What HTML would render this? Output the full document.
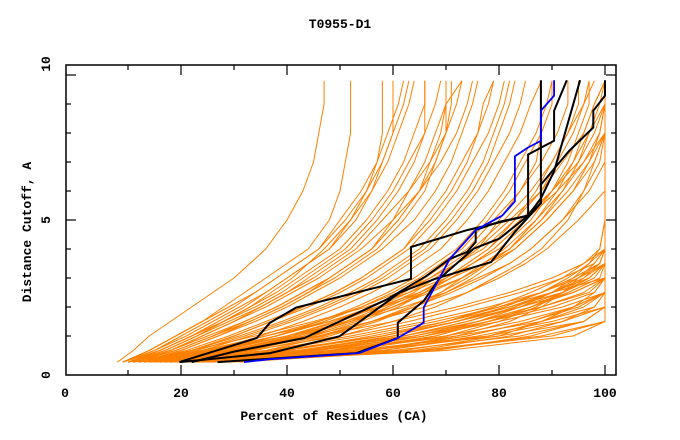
<!DOCTYPE html>
<html><head><meta charset="utf-8"><style>
html,body{margin:0;padding:0;background:#fff;}
svg{display:block;font-family:"Liberation Mono",monospace;font-weight:bold;}
</style></head><body>
<svg id="chart" width="680" height="440" viewBox="0 0 680 440" xmlns="http://www.w3.org/2000/svg">
<text x="340" y="28" text-anchor="middle" font-size="13">T0955-D1</text>
<g id="plot"></g>
<rect x="66" y="65" width="550" height="310" fill="none" stroke="#000" stroke-width="1.5"/>
<g id="axes"></g>
<text x="334" y="420" text-anchor="middle" font-size="13">Percent of Residues (CA)</text>
<text transform="translate(31,232) rotate(-90)" text-anchor="middle" font-size="13">Distance Cutoff, A</text>
</svg>
<script>
const cutoffs = [0.1,0.5,1,1.5,2,2.5,3,3.5,4,5,6,7,8,9,9.8];
const orangeSeries = [
[25,55,80,96,100,100,100,100,100,100,100,100,100,100,100],
[22,50,72,88,98,100,100,100,100,100,100,100,100,100,100],
[20,45,66,80,92,100,100,100,100,100,100,100,100,100,100],
[18,42,62,76,88,97,100,100,100,100,100,100,100,100,100],
[28,58,76,90,100,100,100,100,100,100,100,100,100,100,100],
[15,38,58,72,84,94,100,100,100,100,100,100,100,100,100],
[24,48,64,78,90,98,100,100,100,100,100,100,100,100,100],
[19,40,56,70,82,92,98,100,100,100,100,100,100,100,100],
[16,36,52,66,78,88,95,100,100,100,100,100,100,100,100],
[21,44,60,72,82,90,97,100,100,100,100,100,100,100,100],
[14,33,50,63,74,84,92,98,100,100,100,100,100,100,100],
[26,52,68,78,86,93,99,100,100,100,100,100,100,100,100],
[17,37,54,68,80,90,100,100,100,100,100,100,100,100,100],
[23,46,62,74,84,92,97,100,100,100,100,100,100,100,100],
[13,30,46,60,72,82,90,96,100,100,100,100,100,100,100],
[27,56,74,86,94,100,100,100,100,100,100,100,100,100,100],
[18,40,58,70,80,88,94,99,100,100,100,100,100,100,100],
[31,65,88,100,100,100,100,100,100,100,100,100,100,100,100],
[20,52,78,92,100,100,100,100,100,100,100,100,100,100,100],
[22,60,84,96,100,100,100,100,100,100,100,100,100,100,100],
[24,66,90,100,100,100,100,100,100,100,100,100,100,100,100],
[26,70,94,100,100,100,100,100,100,100,100,100,100,100,100],
[18,48,70,84,94,100,100,100,100,100,100,100,100,100,100],
[21,54,74,86,95,100,100,100,100,100,100,100,100,100,100],
[23,58,78,88,96,100,100,100,100,100,100,100,100,100,100],
[19,46,66,78,88,96,100,100,100,100,100,100,100,100,100],
[17,44,64,76,86,94,100,100,100,100,100,100,100,100,100],
[25,62,80,88,94,98,100,100,100,100,100,100,100,100,100],
[16,42,60,72,82,90,96,100,100,100,100,100,100,100,100],
[20,50,68,78,86,92,97,100,100,100,100,100,100,100,100],
[18,45,62,74,83,90,95,99,100,100,100,100,100,100,100],
[22,52,70,80,87,92,96,99,100,100,100,100,100,100,100],
[15,40,58,70,79,86,92,96,99,100,100,100,100,100,100],
[24,56,72,82,88,92,95,98,100,100,100,100,100,100,100],
[27,64,82,92,98,100,100,100,100,100,100,100,100,100,100],
[29,68,86,96,100,100,100,100,100,100,100,100,100,100,100],
[17,43,60,72,81,88,93,97,100,100,100,100,100,100,100],
[21,49,66,76,84,90,94,97,99,100,100,100,100,100,100],
[14,30,44,56,66,74,80,85,89,95,100,100,100,100,100],
[12,26,40,52,62,70,76,82,86,92,97,100,100,100,100],
[16,32,46,56,64,71,77,82,86,92,96,99,100,100,100],
[11,24,36,48,58,66,73,78,83,89,94,97,99,100,100],
[20,38,50,60,68,74,79,84,88,93,96,98,100,100,100],
[13,27,38,48,57,65,71,77,82,88,92,95,97,99,100],
[10,22,34,45,55,63,70,75,80,86,90,93,95,97,97],
[15,29,41,51,60,67,73,78,82,87,91,94,96,98,100],
[12,25,36,46,54,61,67,72,77,83,88,91,94,96,97],
[14,32,46,56,64,70,75,79,83,89,94,98,100,100,100],
[13,29,42,52,60,66,71,75,79,85,90,94,97,100,100],
[16,34,47,56,63,69,73,77,81,87,92,96,99,100,100],
[12,27,40,50,57,63,68,72,76,82,88,92,96,98,100],
[15,31,44,53,60,66,70,74,78,84,90,95,98,100,100],
[18,36,48,57,64,69,74,78,82,88,93,97,100,100,100],
[11,25,38,48,56,62,67,71,75,81,86,90,93,96,98],
[14,30,43,52,59,65,70,74,78,83,87,90,93,95,95],
[13,28,40,49,56,62,66,70,74,79,84,88,91,93,93],
[12,26,38,47,54,60,65,69,73,78,82,85,88,90,90],
[17,33,45,54,61,66,71,75,79,85,91,96,100,100,100],
[15,30,42,51,58,64,68,72,76,80,84,87,88,88,88],
[8,11,14,18,22,26,30,33,36,40,43,45,46,47,47],
[10,16,22,28,33,37,41,44,47,52,56,59,61,63,64],
[9,15,20,25,30,34,38,42,46,51,55,58,60,62,63],
[12,20,27,34,40,45,50,54,58,64,68,71,73,75,76],
[11,18,24,30,36,41,46,50,54,60,65,69,72,74,75],
[10,17,23,29,35,40,45,49,53,58,63,67,70,72,73],
[13,22,30,37,44,50,55,59,63,68,72,75,78,80,81],
[9,14,19,24,29,34,38,42,46,50,54,57,59,61,62],
[14,24,33,41,48,54,59,63,67,72,76,79,82,84,85],
[12,21,29,36,43,49,54,58,62,67,71,74,76,78,79],
[11,19,26,33,39,44,49,53,57,62,66,68,70,71,71],
[15,26,35,43,50,56,61,65,69,74,78,81,84,86,88],
[10,18,25,32,38,43,48,52,56,61,65,67,69,70,70],
[13,23,32,40,47,53,58,62,66,71,75,78,80,82,83],
[16,28,38,46,53,59,64,68,72,77,81,84,87,89,90],
[9,16,22,28,34,39,43,47,51,56,60,63,66,68,69],
[12,22,31,39,46,52,57,61,65,70,74,77,79,81,82],
[9,14,19,24,28,32,36,40,44,48,50,51,52,52,52],
[10,16,22,27,32,36,40,44,48,52,55,57,58,58,58],
[11,18,24,30,35,40,44,48,52,57,61,64,66,66,66],
[10,17,23,28,33,38,42,46,50,55,59,62,64,66,66],
[12,20,27,33,39,44,48,52,56,61,65,68,70,70,70],
[11,19,26,32,38,43,48,52,56,60,63,66,68,70,73],
[9,15,21,26,31,36,40,44,48,53,56,58,60,60,60],
[13,22,30,37,43,49,54,58,62,66,70,73,76,77,79]
];
const blackApct = [19.7,34.3,36.8,41.7,63.4,63.4,74.0,85.5,87.9,87.9];
const blackAcut = [0.1,0.93,1.46,1.98,2.97,4.07,4.65,5.15,5.58,9.82];
const blackBpct = [22.0,30.2,43.3,50.7,58.9,66.2,70.7,74.0,75.6,75.6,80.1,85.5,85.5,90.4,90.4,92.8];
const blackBcut = [0.1,0.47,0.93,1.57,2.27,3.06,3.66,3.90,4.24,4.65,4.94,5.15,7.26,7.73,8.77,9.82];
const blackCpct = [19.7,36.8,49.9,61.3,67.9,78.5,83.0,87.9,87.9,93.2,97.8,97.8,100,100];
const blackCcut = [0.1,0.41,0.99,2.50,2.97,3.55,4.59,5.58,6.22,7.38,8.19,8.77,9.29,9.82];
const blackDpct = [26.9,53.1,60.9,60.9,65.8,68.7,75.2,80.1,85.5,87.9,90.4,95.3];
const blackDcut = [0.1,0.41,0.93,1.46,2.21,2.97,4.01,4.36,5.15,5.75,6.68,9.82];
const bluePct = [31.9,36.8,53.6,60.9,65.8,65.8,70.7,75.6,80.6,83.0,83.0,85.5,87.9,87.9,90.4,90.4];
const blueCut = [0.1,0.2,0.41,0.93,1.46,1.98,3.66,4.65,5.15,5.64,7.20,7.50,7.73,8.77,9.29,9.82];
const xTickLabels = ["0","20","40","60","80","100"];
const yTickLabels = ["0","5","10"];

const NS = "http://www.w3.org/2000/svg";
function xs(v){ return 75 + 5.3 * v; }
function ys(v){ return 365 - 29 * v; }
const plot = document.getElementById('plot');
const axes = document.getElementById('axes');
function poly(pcts, cuts, color, w, name){
  const p = document.createElementNS(NS, 'polyline');
  p.setAttribute('points', pcts.map((v,i)=>xs(v).toFixed(1)+','+ys(cuts[i]).toFixed(1)).join(' '));
  p.setAttribute('fill','none');
  p.setAttribute('stroke',color);
  p.setAttribute('stroke-width',w);
  p.setAttribute('stroke-linejoin','round');
  
  
  plot.appendChild(p);
}
orangeSeries.forEach((s,i)=>poly(s, cutoffs, '#ff8000', 1, 'model-line-'+(i+1)));
poly(blackApct, blackAcut, '#000', 2, 'highlight-line-a');
poly(blackBpct, blackBcut, '#000', 2, 'highlight-line-b');
poly(blackCpct, blackCcut, '#000', 2, 'highlight-line-c');
poly(blackDpct, blackDcut, '#000', 2, 'highlight-line-d');
poly(bluePct, blueCut, '#0000ff', 1.8, 'reference-line');

function line(x1,y1,x2,y2,name){
  const l = document.createElementNS(NS,'line');
  l.setAttribute('x1',x1);l.setAttribute('y1',y1);l.setAttribute('x2',x2);l.setAttribute('y2',y2);
  l.setAttribute('stroke','#000');l.setAttribute('stroke-width',1.2);
  
  
  axes.appendChild(l);
}
function txt(x,y,s,name,rot){
  const t = document.createElementNS(NS,'text');
  t.setAttribute('font-size','13');
  t.setAttribute('text-anchor','middle');
  if(rot){ t.setAttribute('transform','translate('+x+','+y+') rotate(-90)'); t.setAttribute('dy','5'); }
  else { t.setAttribute('x',x); t.setAttribute('y',y); }
  t.textContent = s;
  
  
  axes.appendChild(t);
}
for(let k=1;k<=10;k++){
  const x = xs(10*k);
  const len = (k%2===0)?10:5;
  line(x,375,x,375-len,'x-tick');
  line(x,65,x,65+len,'x2-tick');
}
for(let k=0;k<=9;k++){
  const y = ys(10-k);
  const len = (k%5===0)?10:5;
  line(66,y,66+len,y,'y-tick');
  line(616,y,616-len,y,'y2-tick');
}
const xLabelPos = [65, xs(20), xs(40), xs(60), xs(80), xs(100)];
xTickLabels.forEach((s,i)=>txt(xLabelPos[i],397,s,'x-tick-label'));
const yLabelPos = [375, ys(5), 64];
yTickLabels.forEach((s,i)=>txt(45,yLabelPos[i],s,'y-tick-label',true));
</script>
</body></html>
